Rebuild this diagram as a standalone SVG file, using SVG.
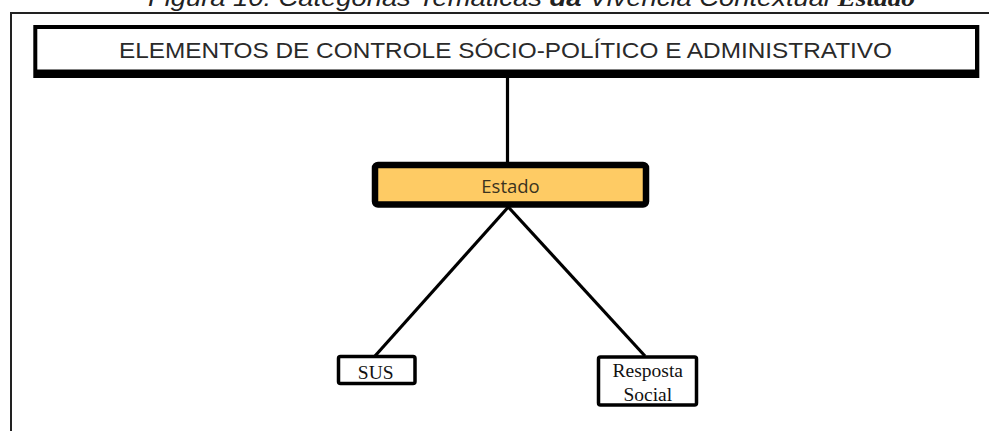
<svg xmlns="http://www.w3.org/2000/svg" width="989" height="431" viewBox="0 0 989 431">
  <style>
    .frame { fill: none; stroke: #222; stroke-width: 2; }
    .conn { stroke: #000; stroke-width: 3.2; fill: none; }
    .leaf { fill: #fff; stroke: #000; stroke-width: 3.5; }
    .leaftxt { font-family: "Liberation Serif", "Times New Roman", serif; font-size: 19.5px; fill: #111; text-anchor: middle; }
    .caption { font-family: "Liberation Sans", Arial, sans-serif; font-size: 23px; font-style: italic; fill: #222; }
  </style>
  <rect width="989" height="431" fill="#fff"/>

  <!-- caption (clipped at top) -->
  <text class="caption" x="148" y="6" textLength="767" lengthAdjust="spacingAndGlyphs">Figura 10: Categorias Temáticas <tspan font-weight="bold">da</tspan> Vivência Contextual <tspan font-family="'Liberation Serif', serif" font-weight="bold">Estado</tspan></text>

  <!-- outer frame -->
  <path class="frame" d="M11 440 V13 H1000"/>

  <g id="connectors">
    <line class="conn" x1="507.5" y1="76" x2="507.5" y2="163"/>
    <line class="conn" x1="508.3" y1="207" x2="375" y2="356"/>
    <line class="conn" x1="508.3" y1="207" x2="645" y2="356"/>
  </g>

  <g id="node-elementos">
    <rect x="33.3" y="25" width="946" height="53" fill="#000"/>
    <rect x="37.3" y="29" width="937.7" height="40.5" fill="#fff"/>
    <text x="119" y="58" textLength="773" lengthAdjust="spacingAndGlyphs" font-family="'Liberation Sans', Arial, sans-serif" font-size="22.5" fill="#2a2a2a">ELEMENTOS DE CONTROLE SÓCIO-POLÍTICO E ADMINISTRATIVO</text>
  </g>

  <g id="node-estado">
    <rect x="375" y="165" width="271" height="39.5" rx="3" fill="#FECB64" stroke="#000" stroke-width="6.5"/>
    <text x="510.5" y="193" text-anchor="middle" font-family="'Open Sans', 'Noto Sans', sans-serif" font-size="18.5" fill="#3a3320">Estado</text>
  </g>

  <g id="node-sus">
    <rect class="leaf" x="338.5" y="356.5" width="76.5" height="27" rx="2"/>
    <text class="leaftxt" x="375.7" y="379">SUS</text>
  </g>

  <g id="node-resposta">
    <rect class="leaf" x="598.5" y="357" width="98" height="48" rx="2"/>
    <text class="leaftxt" x="647.8" y="377.3">Resposta</text>
    <text class="leaftxt" x="647.8" y="401">Social</text>
  </g>
</svg>
